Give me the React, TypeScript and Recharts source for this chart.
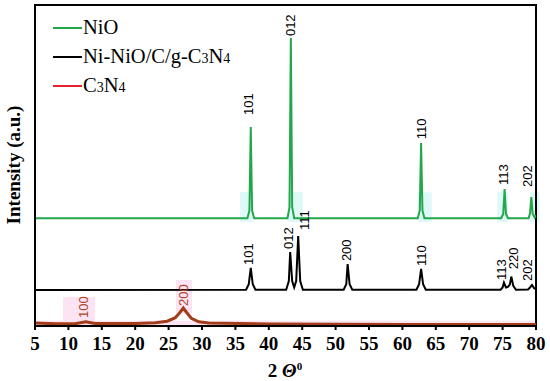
import React from 'react'
import { ComposedChart, Line, Scatter, XAxis, YAxis, ReferenceArea } from 'recharts'

// 2θ ticks
const xTicks = [5, 10, 15, 20, 25, 30, 35, 40, 45, 50, 55, 60, 65, 70, 75, 80]

const seriesNames = ['NiO', 'Ni-NiO/C/g-C3N4', 'C3N4']
const seriesColors = ['#22a84b', '#000000', '#e3242b']

const SERIF = "'Liberation Serif', 'Times New Roman', serif"
const SANS = "'Liberation Sans', Arial, sans-serif"

// patterns, offset for stacking (a.u.)
const nioData = [
  { x: 5, y: 33.6 }, { x: 36.8, y: 33.6 }, { x: 37.1, y: 36 }, { x: 37.3, y: 62 }, { x: 37.5, y: 36 }, { x: 37.8, y: 33.6 },
  { x: 42.8, y: 33.6 }, { x: 43.1, y: 37 }, { x: 43.3, y: 89.7 }, { x: 43.5, y: 37 }, { x: 43.8, y: 33.6 },
  { x: 62.3, y: 33.6 }, { x: 62.6, y: 36 }, { x: 62.8, y: 57 }, { x: 63.0, y: 36 }, { x: 63.3, y: 33.6 },
  { x: 74.8, y: 33.6 }, { x: 75.1, y: 35 }, { x: 75.3, y: 42.7 }, { x: 75.5, y: 35 }, { x: 75.8, y: 33.6 },
  { x: 78.9, y: 33.6 }, { x: 79.1, y: 35 }, { x: 79.3, y: 40.2 }, { x: 79.5, y: 35 }, { x: 79.8, y: 33.8 }, { x: 80, y: 34.5 },
]

const compositeData = [
  { x: 5, y: 11.2 }, { x: 36.6, y: 11.3 }, { x: 37.0, y: 13 }, { x: 37.3, y: 18.1 }, { x: 37.6, y: 13 }, { x: 38.0, y: 11.3 },
  { x: 42.6, y: 11.3 }, { x: 43.0, y: 14 }, { x: 43.2, y: 23 }, { x: 43.5, y: 14 }, { x: 43.8, y: 12 },
  { x: 44.1, y: 14 }, { x: 44.4, y: 28 }, { x: 44.7, y: 14 }, { x: 45.1, y: 11.3 },
  { x: 51.2, y: 11.3 }, { x: 51.6, y: 13 }, { x: 51.8, y: 19.3 }, { x: 52.1, y: 13 }, { x: 52.5, y: 11.3 },
  { x: 62.1, y: 11.3 }, { x: 62.5, y: 13 }, { x: 62.8, y: 17.8 }, { x: 63.1, y: 13 }, { x: 63.5, y: 11.3 },
  { x: 74.7, y: 11.3 }, { x: 75.0, y: 12 }, { x: 75.2, y: 13.5 }, { x: 75.5, y: 12 }, { x: 75.8, y: 12.2 },
  { x: 76.1, y: 13 }, { x: 76.3, y: 15.4 }, { x: 76.6, y: 12.5 }, { x: 77.0, y: 11.3 },
  { x: 78.8, y: 11.4 }, { x: 79.1, y: 12 }, { x: 79.4, y: 12.8 }, { x: 79.7, y: 11.8 }, { x: 80, y: 11.4 },
]

const c3n4Data = [
  { x: 5, y: 0.9 }, { x: 8, y: 0.7 }, { x: 11, y: 0.7 }, { x: 12.6, y: 1.3 }, { x: 14, y: 0.8 }, { x: 20, y: 0.8 },
  { x: 23, y: 1.0 }, { x: 24.8, y: 1.5 }, { x: 26, y: 2.6 }, { x: 26.7, y: 4.2 }, { x: 27.2, y: 5.6 }, { x: 27.7, y: 4.2 },
  { x: 28.4, y: 2.4 }, { x: 29.5, y: 1.3 }, { x: 31, y: 0.9 }, { x: 40, y: 0.6 }, { x: 60, y: 0.5 }, { x: 80, y: 0.5 },
]

// hkl labels: x = position, y = bottom of text
const nioLabels = [
  { x: 36.9, y: 65.4, t: '101' }, { x: 43.3, y: 90, t: '012' }, { x: 62.8, y: 57.9, t: '110' },
  { x: 75.2, y: 43.6, t: '113' }, { x: 78.8, y: 43, t: '202' },
]
const compositeLabels = [
  { x: 37.0, y: 18.7, t: '101' }, { x: 43.0, y: 23.7, t: '012' }, { x: 45.3, y: 29.6, t: '111' },
  { x: 51.7, y: 19.9, t: '200' }, { x: 62.9, y: 18.4, t: '110' }, { x: 74.8, y: 14, t: '113' },
  { x: 76.6, y: 17.4, t: '220' }, { x: 78.8, y: 13.7, t: '202' },
]
const c3n4Labels = [
  { x: 12.3, y: 2.2, t: '100' }, { x: 27.3, y: 5.9, t: '200' },
]

// highlight boxes left in the source image
const cyanBoxes = [
  { x1: 35.7, x2: 37.6 }, { x1: 42.9, x2: 45.1 }, { x1: 62.3, x2: 64.4 }, { x1: 74.2, x2: 75.8 }, { x1: 79.1, x2: 80.5 },
]
const pinkBoxes = [
  { x1: 9.2, x2: 14.0, y1: 0.9, y2: 9.0 }, { x1: 26.1, x2: 28.5, y1: 4.0, y2: 14.3 },
]

const hklShape = (color: string) => (props: any) => {
  const { cx, cy, payload } = props
  const y = cy - 1
  return (
    <text
      x={cx}
      y={y}
      transform={`rotate(-90 ${cx} ${y})`}
      textAnchor="start"
      dominantBaseline="central"
      fontFamily={SANS}
      fontSize={13}
      fill={color}
    >
      {payload.t}
    </text>
  )
}

const XTick = (props: any) => {
  const { x, y, payload } = props
  return (
    <text x={x} y={y + 16} textAnchor="middle" fontFamily={SERIF} fontSize={19} fontWeight="bold" fill="#000">
      {payload.value}
    </text>
  )
}

function LegendLabel({ name }: { name: string }) {
  if (name.endsWith('C3N4')) {
    const head = name.slice(0, -4)
    return (
      <span>
        {head}C<span style={{ fontSize: 14 }}>3</span>N<span style={{ fontSize: 14 }}>4</span>
      </span>
    )
  }
  return <span>{name}</span>
}

export default function App() {
  return (
    <div style={{ position: 'absolute', left: 0, top: 0, width: 550, height: 381, background: '#fff' }}>
      <ComposedChart width={550} height={381} data={nioData} margin={{ top: 5, right: 14, left: 0, bottom: 25 }}>
        <XAxis
          dataKey="x"
          type="number"
          domain={[5, 80]}
          ticks={xTicks}
          allowDataOverflow
          height={30}
          tickSize={4}
          tickMargin={4}
          axisLine={{ stroke: '#000', strokeWidth: 2 }}
          tickLine={{ stroke: '#000', strokeWidth: 2 }}
          tick={<XTick />}
          label={{
            content: () => (
              <text x={285} y={377} textAnchor="middle" fontFamily={SERIF} fontSize={19} fontWeight="bold" fill="#000">
                <tspan>2 </tspan>
                <tspan fontStyle="italic">Θ</tspan>
                <tspan fontSize={11} dy={-7}>0</tspan>
              </text>
            ),
          }}
        />
        <YAxis
          type="number"
          domain={[0, 100]}
          width={35}
          tick={false}
          tickLine={false}
          axisLine={{ stroke: '#000', strokeWidth: 2 }}
          label={{
            content: () => (
              <text
                x={20}
                y={165}
                transform="rotate(-90 20 165)"
                textAnchor="middle"
                fontFamily={SERIF}
                fontSize={19}
                fontWeight="bold"
                fill="#000"
              >
                Intensity (a.u.)
              </text>
            ),
          }}
        />
        {cyanBoxes.map((b, i) => (
          <ReferenceArea key={'c' + i} x1={b.x1} x2={b.x2} y1={32.4} y2={41.7} fill="#dff9f8" fillOpacity={1} stroke="none" ifOverflow="visible" />
        ))}
        <ReferenceArea x1={5} x2={80} y1={-0.4} y2={1.6} fill="#fce4f3" fillOpacity={1} stroke="none" ifOverflow="visible" />
        {pinkBoxes.map((b, i) => (
          <ReferenceArea key={'p' + i} x1={b.x1} x2={b.x2} y1={b.y1} y2={b.y2} fill="#fce4f3" fillOpacity={1} stroke="none" />
        ))}
        <Line data={c3n4Data} dataKey="y" stroke="#a23c1b" strokeWidth={3} dot={false} type="linear" isAnimationActive={false} />
        <Line data={compositeData} dataKey="y" stroke={seriesColors[1]} strokeWidth={2} dot={false} type="linear" isAnimationActive={false} />
        <Line data={nioData} dataKey="y" stroke={seriesColors[0]} strokeWidth={2} dot={false} type="linear" isAnimationActive={false} />
        <Scatter data={nioLabels} dataKey="y" shape={hklShape('#000')} isAnimationActive={false} />
        <Scatter data={compositeLabels} dataKey="y" shape={hklShape('#000')} isAnimationActive={false} />
        <Scatter data={c3n4Labels} dataKey="y" shape={hklShape('#b0452a')} isAnimationActive={false} />
        <ReferenceArea x1={5} x2={80} y1={0} y2={100} fill="none" stroke="#000" strokeWidth={2} />
      </ComposedChart>
      <div
        style={{
          position: 'absolute',
          left: 53,
          top: 13,
          fontFamily: SERIF,
          fontSize: 20.5,
          color: '#000',
        }}
      >
        {seriesNames.map((n, i) => (
          <div key={n} style={{ display: 'flex', alignItems: 'center', height: 29 }}>
            <span style={{ display: 'inline-block', width: 29, height: 2, background: seriesColors[i], marginRight: 1 }} />
            <LegendLabel name={n} />
          </div>
        ))}
      </div>
    </div>
  )
}
